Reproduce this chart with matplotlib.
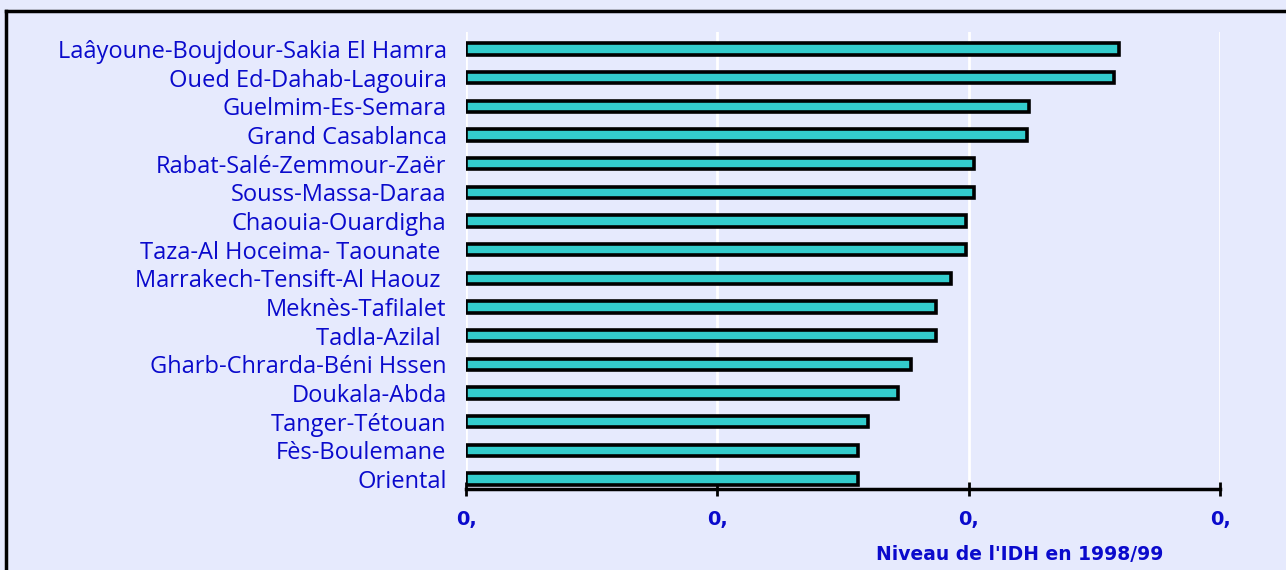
import matplotlib
matplotlib.use("Agg")
import matplotlib.pyplot as plt
from matplotlib.lines import Line2D

# regions, top to bottom
regions = [
    "Laâyoune-Boujdour-Sakia El Hamra",
    "Oued Ed-Dahab-Lagouira",
    "Guelmim-Es-Semara",
    "Grand Casablanca",
    "Rabat-Salé-Zemmour-Zaër",
    "Souss-Massa-Daraa",
    "Chaouia-Ouardigha",
    "Taza-Al Hoceima- Taounate ",
    "Marrakech-Tensift-Al Haouz ",
    "Meknès-Tafilalet",
    "Tadla-Azilal ",
    "Gharb-Chrarda-Béni Hssen",
    "Doukala-Abda",
    "Tanger-Tétouan",
    "Fès-Boulemane",
    "Oriental",
]
idh = [0.660, 0.658, 0.624, 0.623, 0.602, 0.602, 0.599, 0.599,
       0.593, 0.587, 0.587, 0.577, 0.572, 0.560, 0.556, 0.556]
x_ticks = [0.4, 0.5, 0.6, 0.7]
x_tick_labels = ["0,", "0,", "0,", "0,"]

bg = "#E6EAFD"
blue = "#0A0ACC"

fig = plt.figure(figsize=(12.86, 5.70), dpi=100, facecolor=bg)
ax = fig.add_axes([0.3624, 0.1421, 0.5863, 0.8018], facecolor=bg)

ypos = list(range(len(regions)))
base = x_ticks[0]
ax.barh(ypos, [v - base for v in idh], left=base, height=0.4,
        color="#33CCCC", edgecolor="black", linewidth=2.6, zorder=3)

ax.set_xlim(x_ticks[0], x_ticks[-1])
ax.set_ylim(len(regions) - 1 + 0.35, -0.59)

ax.set_xticks(x_ticks)
ax.set_xticklabels(x_tick_labels, color=blue, fontweight="bold",
                   fontsize=14, family=["Liberation Sans Narrow", "DejaVu Sans"])
ax.tick_params(axis="x", direction="inout", length=10, width=2, pad=10)

ax.set_yticks(ypos)
ax.set_yticklabels(regions, color=blue, fontsize=17,
                   family=["Open Sans", "DejaVu Sans"])
ax.tick_params(axis="y", length=0, pad=14)

ax.grid(axis="x", color="white", linewidth=2, zorder=0)
for s in ["top", "right", "left"]:
    ax.spines[s].set_visible(False)
ax.spines["bottom"].set_linewidth(2.5)
ax.spines["bottom"].set_zorder(4)

fig.text(0.793, 0.027, "Niveau de l'IDH en 1998/99", color=blue,
         fontweight="bold", fontsize=13.5, ha="center", va="center",
         family=["Liberation Sans Narrow", "DejaVu Sans"])

# frame around the chart (left and top edges visible)
fig.add_artist(Line2D([0.0043, 0.0043], [0.0, 0.981], color="black",
                      linewidth=2.5, transform=fig.transFigure))
fig.add_artist(Line2D([0.0043, 1.0], [0.981, 0.981], color="black",
                      linewidth=2.5, transform=fig.transFigure))

fig.savefig("out.png", dpi=100, facecolor=bg)
